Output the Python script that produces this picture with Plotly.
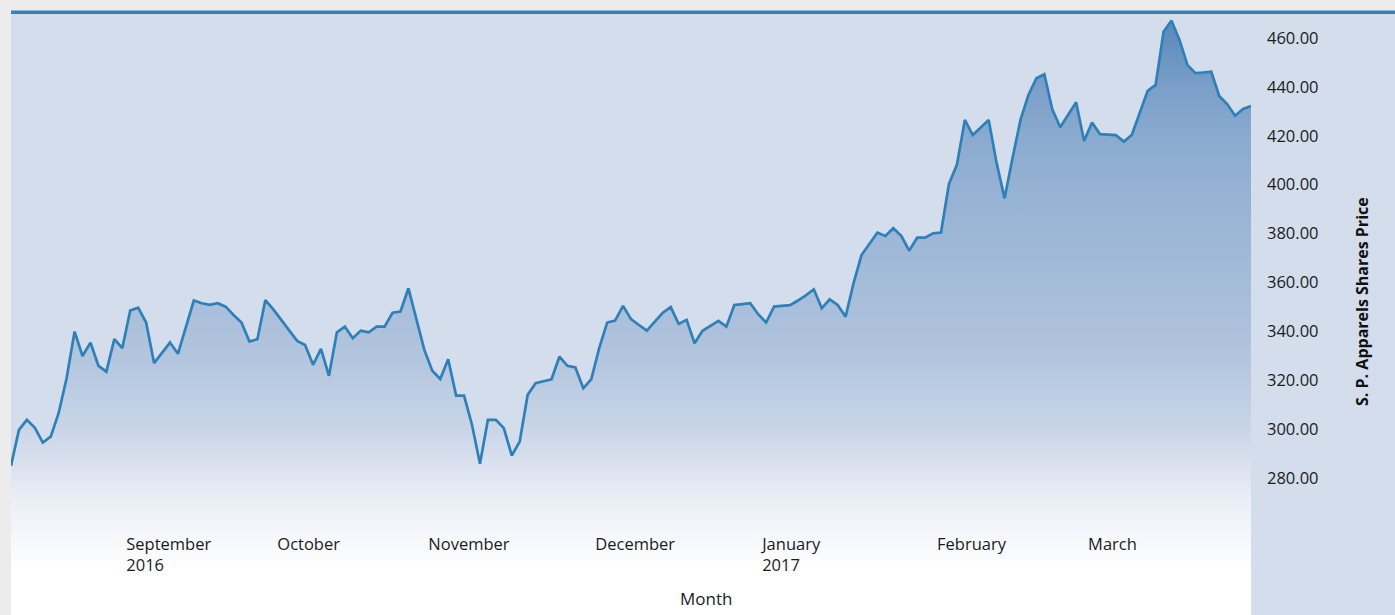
import plotly.graph_objects as go

# ---- data ----
price = [
    285.0, 299.7, 303.8, 300.5, 294.5, 296.9, 306.6, 320.9, 339.9, 329.9,
    335.4, 325.9, 323.5, 336.8, 333.1, 348.5, 349.7, 343.6, 327.0, 331.2,
    335.4, 330.8, 341.8, 352.6, 351.5, 350.8, 351.5, 350.1, 346.7, 343.6,
    335.8, 336.8, 352.8, 349.0, 344.7, 340.3, 336.1, 334.4, 326.3, 332.8,
    321.8, 339.6, 341.9, 337.2, 340.3, 339.6, 341.9, 341.9, 347.6, 348.1,
    357.6, 345.0, 332.4, 323.9, 320.5, 328.6, 313.7, 313.7, 301.7, 285.8,
    303.8, 303.8, 300.4, 289.2, 294.9, 314.0, 318.8, 319.6, 320.4, 329.7,
    325.9, 325.2, 316.7, 320.4, 333.1, 343.6, 344.4, 350.4, 345.0, 342.6,
    340.3, 344.0, 347.6, 349.9, 343.0, 344.7, 335.1, 340.2, 342.2, 344.3,
    341.9, 350.8, 351.1, 351.5, 347.0, 343.6, 350.1, 350.4, 350.7, 352.6,
    354.7, 357.2, 349.4, 353.1, 350.8, 346.0, 359.7, 371.2, 375.8, 380.4,
    379.0, 382.2, 379.1, 373.0, 378.3, 378.3, 380.1, 380.4, 400.3, 408.1,
    426.5, 420.3, 423.4, 426.5, 408.8, 394.4, 410.9, 426.5, 436.7, 443.5,
    445.2, 430.8, 423.5, 428.5, 433.7, 417.9, 425.4, 420.7, 420.5, 420.3,
    417.6, 420.3, 429.3, 438.4, 440.8, 462.6, 467.1, 459.2, 449.0, 445.6,
    445.9, 446.2, 436.3, 433.0, 428.2, 431.0, 432.2,
]
trading_day = list(range(len(price)))

month_start_day = [14, 33, 52, 73, 94, 116, 135]
month_labels = ["September<br>2016", "October", "November", "December",
                "January<br>2017", "February", "March"]

y_ticks = [280, 300, 320, 340, 360, 380, 400, 420, 440, 460]
y_tick_text = [f"{v:.2f}" for v in y_ticks]

x_title = "Month"
y_title = "S. P. Apparels Shares Price"

# ---- figure ----
FONT = "Open Sans, Noto Sans, sans-serif"
BG = "#d3ddeb"
LINE = "#2f80b8"

fig = go.Figure()
fig.add_trace(go.Scatter(
    x=trading_day, y=price, mode="lines",
    line=dict(color=LINE, width=2.7),
    fill="tozeroy",
    fillgradient=dict(
        type="vertical", start=223.95, stop=468,
        colorscale=[
            [0.0, "#ffffff"], [0.074, "#ffffff"], [0.127, "#f6f8fb"],
            [0.189, "#ebeff6"], [0.25, "#dbe2ef"], [0.311, "#c9d5e7"],
            [0.393, "#b9cae1"], [0.475, "#adc1dc"], [0.598, "#a1b9d7"],
            [0.721, "#94b1d3"], [0.803, "#8aaacf"], [0.885, "#7a9fc9"],
            [1.0, "#5787bb"],
        ],
    ),
    hoverinfo="x+y", showlegend=False,
))

fig.update_layout(
    width=1395, height=615, autosize=False,
    margin=dict(l=11, r=144, t=14, b=0, pad=0),
    paper_bgcolor="#ececec", plot_bgcolor=BG,
    font=dict(family=FONT, size=16, color="#1c1c1c"),
    showlegend=False,
    xaxis=dict(
        range=[0, len(price) - 1], showgrid=False, zeroline=False,
        showline=False, ticks="", tickmode="array",
        tickvals=month_start_day, ticktext=month_labels,
        anchor="free", position=0.138,
        ticklabelposition="outside right", ticklabelshift=4,
        tickfont=dict(family=FONT, size=16.5, color="#1c1c1c"),
    ),
    yaxis=dict(
        range=[223.95, 469.82], side="right", showgrid=False,
        zeroline=False, showline=False, ticks="",
        tickmode="array", tickvals=y_ticks, ticktext=y_tick_text,
        ticklabelstandoff=15,
        tickfont=dict(family=FONT, size=16.5, color="#1c1c1c"),
    ),
    shapes=[
        dict(type="rect", xref="paper", yref="paper", x0=1, x1=1.2,
             y0=-0.1, y1=1, fillcolor=BG, line=dict(width=0), layer="below"),
        dict(type="line", xref="paper", yref="paper", x0=0, x1=1.2,
             y0=1.0028, y1=1.0028, line=dict(color="#3580b8", width=3.5)),
    ],
    annotations=[
        dict(text=x_title, xref="paper", yref="paper", x=0.5605, y=0.028,
             xanchor="center", yanchor="middle", showarrow=False,
             font=dict(family=FONT, size=17, color="#1c1c1c")),
        dict(text=f"<b>{y_title}</b>", xref="paper", yref="paper",
             x=1.0895, y=0.5225, textangle=-90, xanchor="center",
             yanchor="middle", showarrow=False,
             font=dict(family=FONT, size=16, color="#111111")),
    ],
)

fig.write_html(
    "out.html",
    config={"displayModeBar": False},
    post_script="document.body.style.margin='0';"
                "document.body.style.background='#ececec';",
)
